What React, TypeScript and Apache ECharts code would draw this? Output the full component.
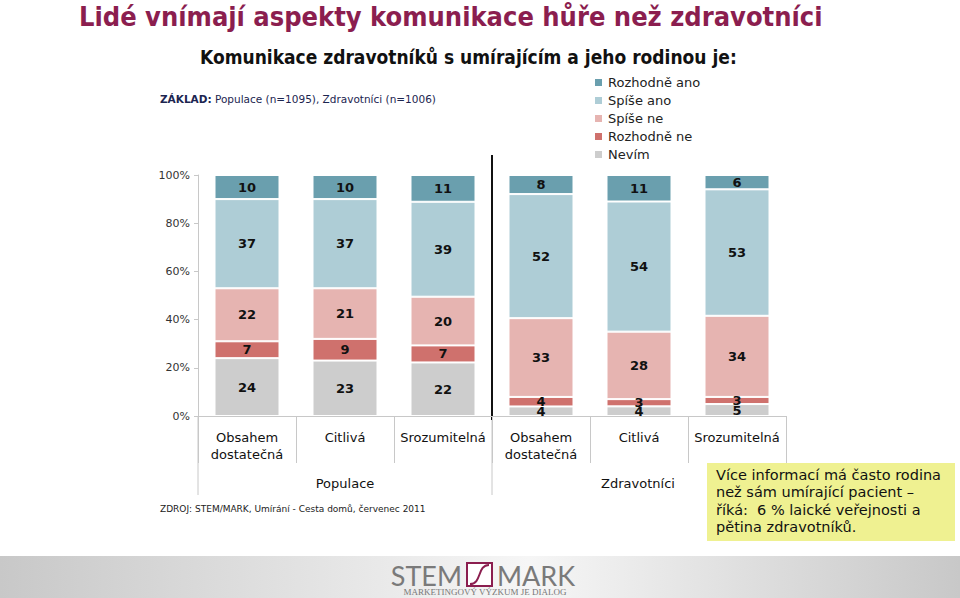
import React, { useEffect, useRef } from "react";
import * as echarts from "echarts";

const categories = [
  "Obsahem\ndostatečná",
  "Citlivá",
  "Srozumitelná",
  "Obsahem\ndostatečná",
  "Citlivá",
  "Srozumitelná",
];
const groups = ["Populace", "Zdravotníci"];
const seriesNames = ["Rozhodně ano", "Spíše ano", "Spíše ne", "Rozhodně ne", "Nevím"];
const rozhodneAno = [10, 10, 11, 8, 11, 6];
const spiseAno = [37, 37, 39, 52, 54, 53];
const spiseNe = [22, 21, 20, 33, 28, 34];
const rozhodneNe = [7, 9, 7, 4, 3, 3];
const nevim = [24, 23, 22, 4, 4, 5];
const yTicks = [0, 20, 40, 60, 80, 100];

const colors: Record<string, string> = {
  "Rozhodně ano": "#6a9fae",
  "Spíše ano": "#aecdd6",
  "Spíše ne": "#e6b4b1",
  "Rozhodně ne": "#cf716d",
  "Nevím": "#cdcdcd",
};

const FONT = "DejaVu Sans";

export default function App() {
  const ref = useRef<HTMLDivElement>(null);
  useEffect(() => {
    if (!ref.current) return;
    const chart = echarts.init(ref.current, null, { renderer: "svg" });
    const totals = categories.map(
      (_, i) => rozhodneAno[i] + spiseAno[i] + spiseNe[i] + rozhodneNe[i] + nevim[i]
    );
    const stackOrder: [string, number[]][] = [
      ["Nevím", nevim],
      ["Rozhodně ne", rozhodneNe],
      ["Spíše ne", spiseNe],
      ["Spíše ano", spiseAno],
      ["Rozhodně ano", rozhodneAno],
    ];
    const series = stackOrder.map(([name, arr]) => ({
      name,
      type: "bar",
      stack: "all",
      barWidth: 65,
      itemStyle: { color: colors[name], borderColor: "#ffffff", borderWidth: 1 },
      label: {
        show: true,
        position: "inside",
        fontFamily: FONT,
        fontWeight: "bold",
        fontSize: 13,
        color: "#111",
        formatter: (p: any) => String(arr[p.dataIndex]),
      },
      data: arr.map((v, i) => (v / totals[i]) * 100),
    }));

    const yellowLines = [
      "Více informací má často rodina",
      "než sám umírající pacient –",
      "říká:  6 % laické veřejnosti a",
      "pětina zdravotníků.",
    ];

    chart.setOption({
      animation: false,
      backgroundColor: "#ffffff",
      grid: { left: 198, right: 174, top: 175, bottom: 182 },
      legend: {
        data: seriesNames,
        orient: "vertical",
        left: 593,
        top: 76,
        padding: 0,
        itemWidth: 9,
        itemHeight: 9,
        itemGap: 5,
        icon: "rect",
        textStyle: { fontFamily: FONT, fontSize: 13, color: "#222" },
      },
      xAxis: {
        type: "category",
        data: categories,
        axisLine: { lineStyle: { color: "#c8c8c8" } },
        axisTick: { show: true, length: 47, interval: 0, lineStyle: { color: "#c8c8c8" } },
        axisLabel: {
          interval: 0,
          margin: 13,
          fontFamily: FONT,
          fontSize: 13,
          lineHeight: 17,
          color: "#111",
        },
      },
      yAxis: {
        type: "value",
        min: 0,
        max: 100,
        interval: 20,
        splitLine: { show: false },
        axisLine: { show: true, lineStyle: { color: "#c8c8c8" } },
        axisTick: { show: true, length: 4, lineStyle: { color: "#c8c8c8" } },
        axisLabel: {
          fontFamily: FONT,
          fontSize: 11,
          color: "#333",
          margin: 8,
          formatter: (v: number) => (yTicks.includes(v) ? v + "%" : ""),
        },
      },
      series,
      graphic: [
        {
          type: "text",
          x: 79,
          y: 16,
          style: {
            text: "Lidé vnímají aspekty komunikace hůře než zdravotníci",
            fontFamily: "DejaVu Sans Condensed",
            fontWeight: "bold",
            fontSize: 27,
            fill: "#8b1e4f",
            verticalAlign: "middle",
          },
        },
        {
          type: "text",
          x: 200,
          y: 57,
          style: {
            text: "Komunikace zdravotníků s umírajícím a jeho rodinou je:",
            fontFamily: "DejaVu Sans Condensed",
            fontWeight: "bold",
            fontSize: 19,
            fill: "#111",
            verticalAlign: "middle",
          },
        },
        {
          type: "text",
          left: 160,
          top: 93,
          style: {
            text: "{b|ZÁKLAD:} Populace (n=1095), Zdravotníci (n=1006)",
            fontFamily: FONT,
            fontSize: 10.5,
            fill: "#1c2550",
            rich: { b: { fontWeight: "bold", fontFamily: FONT, fontSize: 10.5, fill: "#1c2550" } },
          },
        },
        {
          type: "line",
          shape: { x1: 492, y1: 155, x2: 492, y2: 420 },
          style: { stroke: "#111", lineWidth: 2 },
        },
        {
          type: "line",
          shape: { x1: 198, y1: 416, x2: 198, y2: 495 },
          style: { stroke: "#c8c8c8", lineWidth: 1 },
        },
        {
          type: "line",
          shape: { x1: 492, y1: 420, x2: 492, y2: 495 },
          style: { stroke: "#c8c8c8", lineWidth: 1 },
        },
        {
          type: "text",
          x: 345,
          y: 483,
          style: {
            text: groups[0],
            fontFamily: FONT,
            fontSize: 13,
            fill: "#111",
            align: "center",
            verticalAlign: "middle",
          },
        },
        {
          type: "text",
          x: 638,
          y: 483,
          style: {
            text: groups[1],
            fontFamily: FONT,
            fontSize: 13,
            fill: "#111",
            align: "center",
            verticalAlign: "middle",
          },
        },
        {
          type: "text",
          left: 160,
          top: 504,
          style: {
            text: "ZDROJ: STEM/MARK, Umírání - Cesta domů, červenec 2011",
            fontFamily: FONT,
            fontSize: 9,
            fill: "#222",
          },
        },
        {
          type: "rect",
          shape: { x: 707, y: 463, width: 248, height: 78 },
          style: { fill: "#eff191" },
        },
        {
          type: "text",
          left: 716,
          top: 466,
          style: {
            text: yellowLines.join("\n"),
            fontFamily: FONT,
            fontSize: 14.5,
            lineHeight: 17.5,
            fill: "#111",
          },
        },
        {
          type: "rect",
          shape: { x: 0, y: 556, width: 960, height: 42 },
          style: {
            fill: new echarts.graphic.LinearGradient(0, 0, 1, 0, [
              { offset: 0, color: "#c8c8c8" },
              { offset: 0.55, color: "#f6f6f6" },
              { offset: 1, color: "#c8c8c8" },
            ]),
          },
        },
        {
          type: "text",
          x: 462,
          y: 575,
          style: {
            text: "STEM",
            fontFamily: "Lato",
            fontSize: 27,
            fill: "#7a7a7a",
            align: "right",
            verticalAlign: "middle",
          },
        },
        {
          type: "text",
          x: 497,
          y: 575,
          style: {
            text: "MARK",
            fontFamily: "Lato",
            fontSize: 27,
            fill: "#7a7a7a",
            align: "left",
            verticalAlign: "middle",
          },
        },
        {
          type: "rect",
          shape: { x: 467, y: 563, width: 25, height: 23 },
          style: { fill: "#ffffff", stroke: "#8b1e4f", lineWidth: 2 },
        },
        {
          type: "bezierCurve",
          shape: { x1: 470, y1: 584, x2: 489, y2: 565, cpx1: 482, cpy1: 584, cpx2: 477, cpy2: 565 },
          style: { stroke: "#8b1e4f", lineWidth: 2, fill: "none" },
        },
        {
          type: "text",
          x: 485,
          y: 592,
          style: {
            text: "MARKETINGOVÝ VÝZKUM JE DIALOG",
            fontFamily: "Liberation Serif",
            fontSize: 9,
            fill: "#777",
            align: "center",
            verticalAlign: "middle",
          },
        },
      ],
    });
    return () => chart.dispose();
  }, []);
  return (
    <div
      ref={ref}
      style={{ position: "fixed", left: 0, top: 0, width: 960, height: 598, background: "#fff" }}
    />
  );
}
